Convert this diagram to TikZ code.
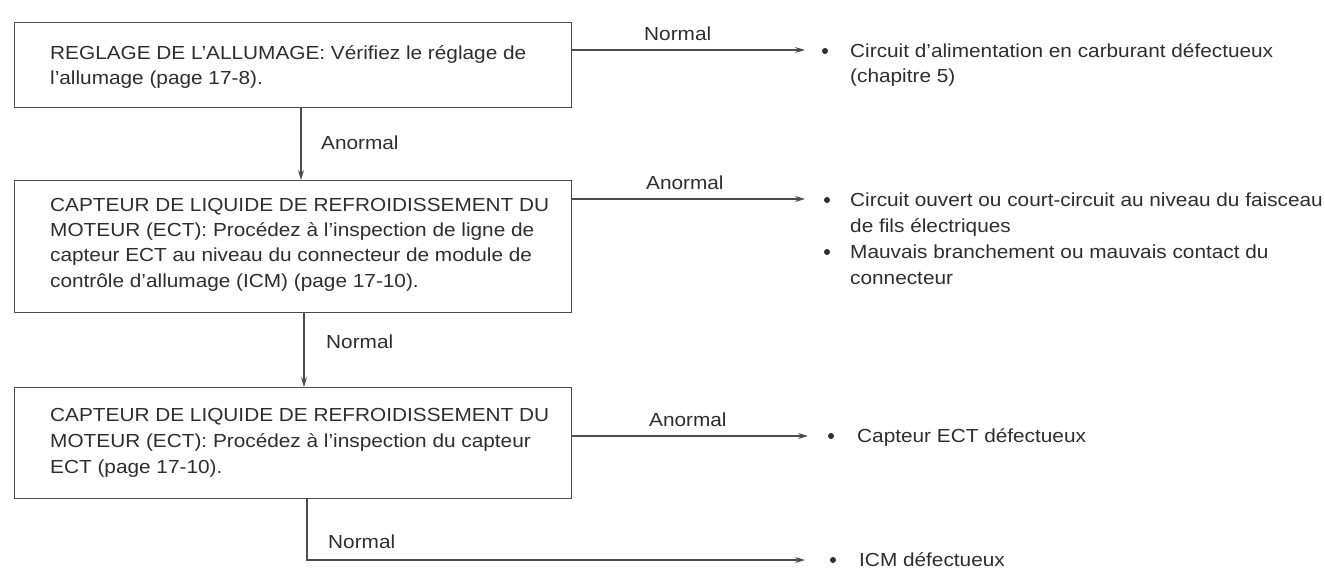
\documentclass[tikz,border=0pt]{standalone}
\usepackage{fontspec}
\setmainfont{Liberation Sans}[FakeStretch=1.1]
\usetikzlibrary{arrows.meta}
\definecolor{ink}{gray}{0.18}
\definecolor{rule}{gray}{0.3}
\begin{document}
\begin{tikzpicture}[x=1pt,y=-1pt,
  every node/.style={font=\fontsize{18.9}{25}\selectfont, text=ink, inner sep=0pt},
  stepbox/.style={draw=rule, line width=1.3pt, rectangle, anchor=north west},
  flow/.style={draw=rule, line width=1.2pt, -{Stealth[length=10pt,width=6pt]}},
  txt/.style={anchor=base west},
  dot/.style={circle, fill=ink, minimum size=6pt}]
\useasboundingbox (0,0) rectangle (1325,568);
\fill[white] (0,0) rectangle (1325,568);

% step boxes
\node[stepbox, minimum width=557pt, minimum height=85pt]  (b1) at (14,22)  {};
\node[stepbox, minimum width=557pt, minimum height=132pt] (b2) at (14,180) {};
\node[stepbox, minimum width=557pt, minimum height=111pt] (b3) at (14,387) {};

% box texts
\node[txt] (b1a) at (50,59)  {REGLAGE DE L'ALLUMAGE: Vérifiez le réglage de};
\node[txt] (b1b) at (50,84)  {l'allumage (page 17-8).};
\node[txt] (b2a) at (50,211) {CAPTEUR DE LIQUIDE DE REFROIDISSEMENT DU};
\node[txt] (b2b) at (50,236) {MOTEUR (ECT): Procédez à l'inspection de ligne de};
\node[txt] (b2c) at (50,261) {capteur ECT au niveau du connecteur de module de};
\node[txt] (b2d) at (50,287) {contrôle d'allumage (ICM) (page 17-10).};
\node[txt] (b3a) at (50,421) {CAPTEUR DE LIQUIDE DE REFROIDISSEMENT DU};
\node[txt] (b3b) at (50,447) {MOTEUR (ECT): Procédez à l'inspection du capteur};
\node[txt] (b3c) at (50,473) {ECT (page 17-10).};

% result lists
\node[dot] (d1) at (825,51) {};
\node[txt] (r1a) at (850,57)  {Circuit d'alimentation en carburant défectueux};
\node[txt] (r1b) at (850,82)  {(chapitre 5)};
\node[dot] (d2) at (827,200) {};
\node[txt] (r2a) at (850,206) {Circuit ouvert ou court-circuit au niveau du faisceau};
\node[txt] (r2b) at (850,232) {de fils électriques};
\node[dot] (d3) at (827,252) {};
\node[txt] (r2c) at (850,258) {Mauvais branchement ou mauvais contact du};
\node[txt] (r2d) at (850,284) {connecteur};
\node[dot] (d4) at (831,436) {};
\node[txt] (r3a) at (857,442) {Capteur ECT défectueux};
\node[dot] (d5) at (833,560) {};
\node[txt] (r4a) at (859,566) {ICM défectueux};

% connector ends
\coordinate (e1) at (805,50);
\coordinate (e2) at (805,199);
\coordinate (e3) at (808,436);
\coordinate (e4) at (805,560);
\coordinate (v1) at (301,0);
\coordinate (v2) at (304,0);
\coordinate (v3) at (307,0);

% connectors
\draw[flow] (b1.east |- e1) -- (e1);
\draw[flow] (b1.south -| v1) -- (b2.north -| v1);
\draw[flow] (b2.east |- e2) -- (e2);
\draw[flow] (b2.south -| v2) -- (b3.north -| v2);
\draw[flow] (b3.east |- e3) -- (e3);
\draw[flow] (b3.south -| v3) -- (v3 |- e4) -- (e4);

% connector labels
\node[txt] (l1) at (644,40)  {Normal};
\node[txt] (l2) at (321,149) {Anormal};
\node[txt] (l3) at (646,189) {Anormal};
\node[txt] (l4) at (326,348) {Normal};
\node[txt] (l5) at (649,426) {Anormal};
\node[txt] (l6) at (328,548) {Normal};
\end{tikzpicture}
\end{document}
